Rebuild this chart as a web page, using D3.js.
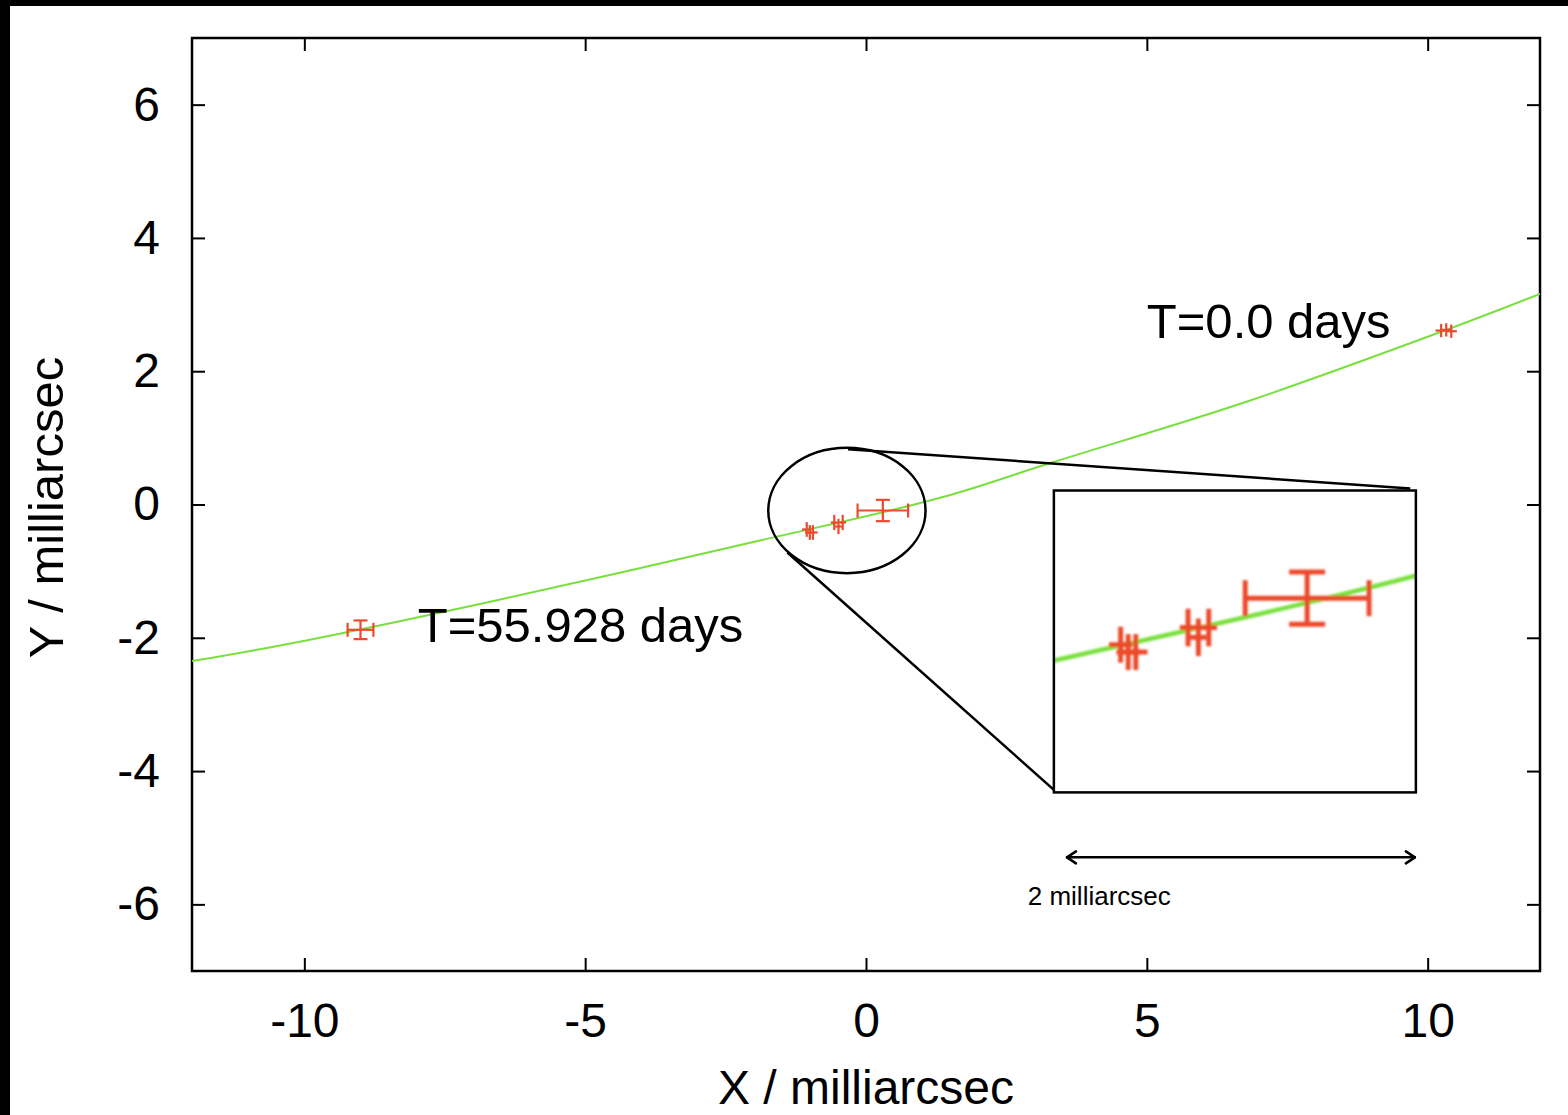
<!DOCTYPE html>
<html>
<head>
<meta charset="utf-8">
<script src="https://cdn.jsdelivr.net/npm/d3@7"></script>
<style>
  body { margin: 0; background: #fff; }
  text { font-family: "Liberation Sans", Arial, Helvetica, sans-serif; fill: #000; }
</style>
</head>
<body>
<svg width="1568" height="1115"></svg>
<script>
var svg = d3.select("svg"),
    width = +svg.attr("width"),
    height = +svg.attr("height");

// axis ticks
const xTicks = [-10, -5, 0, 5, 10];
const yTicks = [-6, -4, -2, 0, 2, 4, 6];

// fitted orbit
const fitX = [-12, -10.15, -6.59, -1.89, 1.32, 3.31, 6.8, 10.3, 12];
const fitY = [-2.35, -2.07, -1.44, -0.54, 0.10, 0.63, 1.55, 2.61, 3.16];

// measured positions with error bars
const ptX  = [-9.00, -1.055, -1.00, -0.945, -0.565, -0.49, -0.415, 0.30, 10.24, 10.33, 10.42];
const ptY  = [-1.88, -0.375, -0.42, -0.42, -0.27, -0.33, -0.27, -0.09, 2.61, 2.62, 2.60];
const errX = [0.23, 0.085, 0.085, 0.085, 0.06, 0.06, 0.06, 0.45, 0.10, 0.10, 0.10];
const errY = [0.14, 0.11, 0.11, 0.11, 0.115, 0.115, 0.115, 0.16, 0.10, 0.10, 0.10];

// labels
const epochLabels = [
  {text: "T=55.928 days", x: -7.98, y: -2.07},
  {text: "T=0.0 days", x: 5.0, y: 2.5}
];

const red = "#ec4a2c", green = "#78e03e";

var margin = {left: 192, right: 28, top: 38, bottom: 144};
var x = d3.scaleLinear().domain([-12, 12]).range([margin.left, width - margin.right]);
var y = d3.scaleLinear().domain([-7, 7]).range([height - margin.bottom, margin.top]);

// black bars of the original screenshot
svg.append("rect").attr("x", 0).attr("y", 0).attr("width", width).attr("height", 6).attr("fill", "#000");
svg.append("rect").attr("x", 0).attr("y", 0).attr("width", 10).attr("height", height).attr("fill", "#000");

svg.append("defs").append("clipPath").attr("id", "plotclip")
  .append("rect")
  .attr("x", x(-12)).attr("y", y(7))
  .attr("width", x(12) - x(-12)).attr("height", y(-7) - y(7));

//axes, ticks pointing inward on all four sides
function styleAxis(g) {
  g.select(".domain").remove();
  g.selectAll(".tick line").attr("stroke", "#000").attr("stroke-width", 2);
  g.selectAll(".tick text").attr("font-size", "48px").attr("fill", "#000")
    .attr("font-family", '"Liberation Sans", Arial, sans-serif');
}
var plain = d => String(d);   // keep the ascii hyphen of the original
svg.append("g").attr("transform", `translate(0,${y(-7)})`)
  .call(d3.axisBottom(x).tickValues(xTicks).tickFormat(plain).tickSize(-13).tickPadding(32)).call(styleAxis);
svg.append("g").attr("transform", `translate(0,${y(7)})`)
  .call(d3.axisTop(x).tickValues(xTicks).tickSize(-13).tickFormat("")).call(styleAxis);
svg.append("g").attr("transform", `translate(${x(-12)},0)`)
  .call(d3.axisLeft(y).tickValues(yTicks).tickFormat(plain).tickSize(-13).tickPadding(32)).call(styleAxis);
svg.append("g").attr("transform", `translate(${x(12)},0)`)
  .call(d3.axisRight(y).tickValues(yTicks).tickSize(-13).tickFormat("")).call(styleAxis);

svg.append("rect")
  .attr("x", x(-12)).attr("y", y(7))
  .attr("width", x(12) - x(-12)).attr("height", y(-7) - y(7))
  .attr("fill", "none").attr("stroke", "#000").attr("stroke-width", 2.5);

// axis titles
svg.append("text")
  .attr("x", x(0)).attr("y", 1104)
  .attr("text-anchor", "middle").attr("font-size", "48px")
  .text("X / milliarcsec");
svg.append("text")
  .attr("transform", `translate(63,${y(0) + 3}) rotate(-90)`)
  .attr("text-anchor", "middle").attr("font-size", "49px")
  .text("Y / milliarcsec");

// draws the fit curve and the error bars with given scales
function drawData(g, sx, sy, lw, cap) {
  var line = d3.line().x(d => sx(d[0])).y(d => sy(d[1])).curve(d3.curveCatmullRom);
  g.append("path")
    .datum(d3.zip(fitX, fitY))
    .attr("d", line)
    .attr("fill", "none").attr("stroke", green).attr("stroke-width", lw);

  var pts = g.selectAll("g.pt")
    .data(d3.range(ptX.length))
    .enter().append("g").attr("class", "pt")
    .attr("stroke", red).attr("stroke-width", lw * 1.1).attr("fill", "none");

  pts.each(function (i) {
    var p = d3.select(this);
    var cx = sx(ptX[i]), cy = sy(ptY[i]);
    var x0 = sx(ptX[i] - errX[i]), x1 = sx(ptX[i] + errX[i]);
    var y0 = sy(ptY[i] - errY[i]), y1 = sy(ptY[i] + errY[i]);
    p.append("line").attr("x1", x0).attr("x2", x1).attr("y1", cy).attr("y2", cy);
    p.append("line").attr("x1", cx).attr("x2", cx).attr("y1", y0).attr("y2", y1);
    // single epochs get end caps, the clustered ones merge into blobs
    if (errX[i] > 0.2) {
      [x0, x1].forEach(v => p.append("line").attr("x1", v).attr("x2", v).attr("y1", cy - cap).attr("y2", cy + cap));
      [y0, y1].forEach(v => p.append("line").attr("y1", v).attr("y2", v).attr("x1", cx - cap).attr("x2", cx + cap));
    }
  });
}

var main = svg.append("g").attr("clip-path", "url(#plotclip)");
drawData(main, x, y, 2, 7);

epochLabels.forEach(function (d) {
  svg.append("text")
    .attr("x", x(d.x)).attr("y", y(d.y))
    .attr("font-size", "49px")
    .text(d.text);
});

// zoom annotation: ellipse, connectors, inset
const ell = {cx: -0.34, cy: -0.09, rx: 1.40, ry: 0.94};
const insetBox = {x0: 3.345, x1: 9.79, y0: -4.32, y1: 0.21};
const insetView = {x0: -1.54, x1: 1.09, y0: -1.28, y1: 0.57};

svg.append("ellipse")
  .attr("cx", x(ell.cx)).attr("cy", y(ell.cy))
  .attr("rx", x(ell.cx + ell.rx) - x(ell.cx))
  .attr("ry", y(ell.cy) - y(ell.cy + ell.ry))
  .attr("fill", "none").attr("stroke", "#000").attr("stroke-width", 2.5);

svg.append("line")
  .attr("x1", x(-0.32)).attr("y1", y(0.83))
  .attr("x2", x(insetBox.x1 - 0.1)).attr("y2", y(insetBox.y1 + 0.03))
  .attr("stroke", "#000").attr("stroke-width", 2.5);
svg.append("line")
  .attr("x1", x(-1.4)).attr("y1", y(-0.72))
  .attr("x2", x(insetBox.x0 + 0.05)).attr("y2", y(insetBox.y0))
  .attr("stroke", "#000").attr("stroke-width", 2.5);

var ix = d3.scaleLinear().domain([insetView.x0, insetView.x1]).range([x(insetBox.x0), x(insetBox.x1)]);
var iy = d3.scaleLinear().domain([insetView.y0, insetView.y1]).range([y(insetBox.y0), y(insetBox.y1)]);

var defs = svg.select("defs");
defs.append("clipPath").attr("id", "insetclip")
  .append("rect")
  .attr("x", x(insetBox.x0)).attr("y", y(insetBox.y1))
  .attr("width", x(insetBox.x1) - x(insetBox.x0))
  .attr("height", y(insetBox.y0) - y(insetBox.y1));
defs.append("filter").attr("id", "soft")
  .append("feGaussianBlur").attr("stdDeviation", 0.8);

svg.append("rect")
  .attr("x", x(insetBox.x0)).attr("y", y(insetBox.y1))
  .attr("width", x(insetBox.x1) - x(insetBox.x0))
  .attr("height", y(insetBox.y0) - y(insetBox.y1))
  .attr("fill", "#fff");

var inset = svg.append("g").attr("clip-path", "url(#insetclip)")
  .append("g").attr("filter", "url(#soft)");
drawData(inset, ix, iy, 4.5, 18);

svg.append("rect")
  .attr("x", x(insetBox.x0)).attr("y", y(insetBox.y1))
  .attr("width", x(insetBox.x1) - x(insetBox.x0))
  .attr("height", y(insetBox.y0) - y(insetBox.y1))
  .attr("fill", "none").attr("stroke", "#000").attr("stroke-width", 2.5);

// scale arrow
const arrow = {x0: 3.56, x1: 9.79, y: -5.295};
var ay = y(arrow.y), ax0 = x(arrow.x0), ax1 = x(arrow.x1);
svg.append("line").attr("x1", ax0).attr("x2", ax1).attr("y1", ay).attr("y2", ay)
  .attr("stroke", "#000").attr("stroke-width", 2.5);
svg.append("path")
  .attr("d", `M${ax0 + 10},${ay - 6}L${ax0 + 1},${ay}L${ax0 + 10},${ay + 6}M${ax1 - 10},${ay - 6}L${ax1 - 1},${ay}L${ax1 - 10},${ay + 6}`)
  .attr("fill", "none").attr("stroke", "#000").attr("stroke-width", 2.5)
  .attr("stroke-linecap", "round").attr("stroke-linejoin", "round");
svg.append("text")
  .attr("x", x(2.88)).attr("y", y(-6.015))
  .attr("font-size", "26px")
  .text("2 milliarcsec");
</script>
</body>
</html>
